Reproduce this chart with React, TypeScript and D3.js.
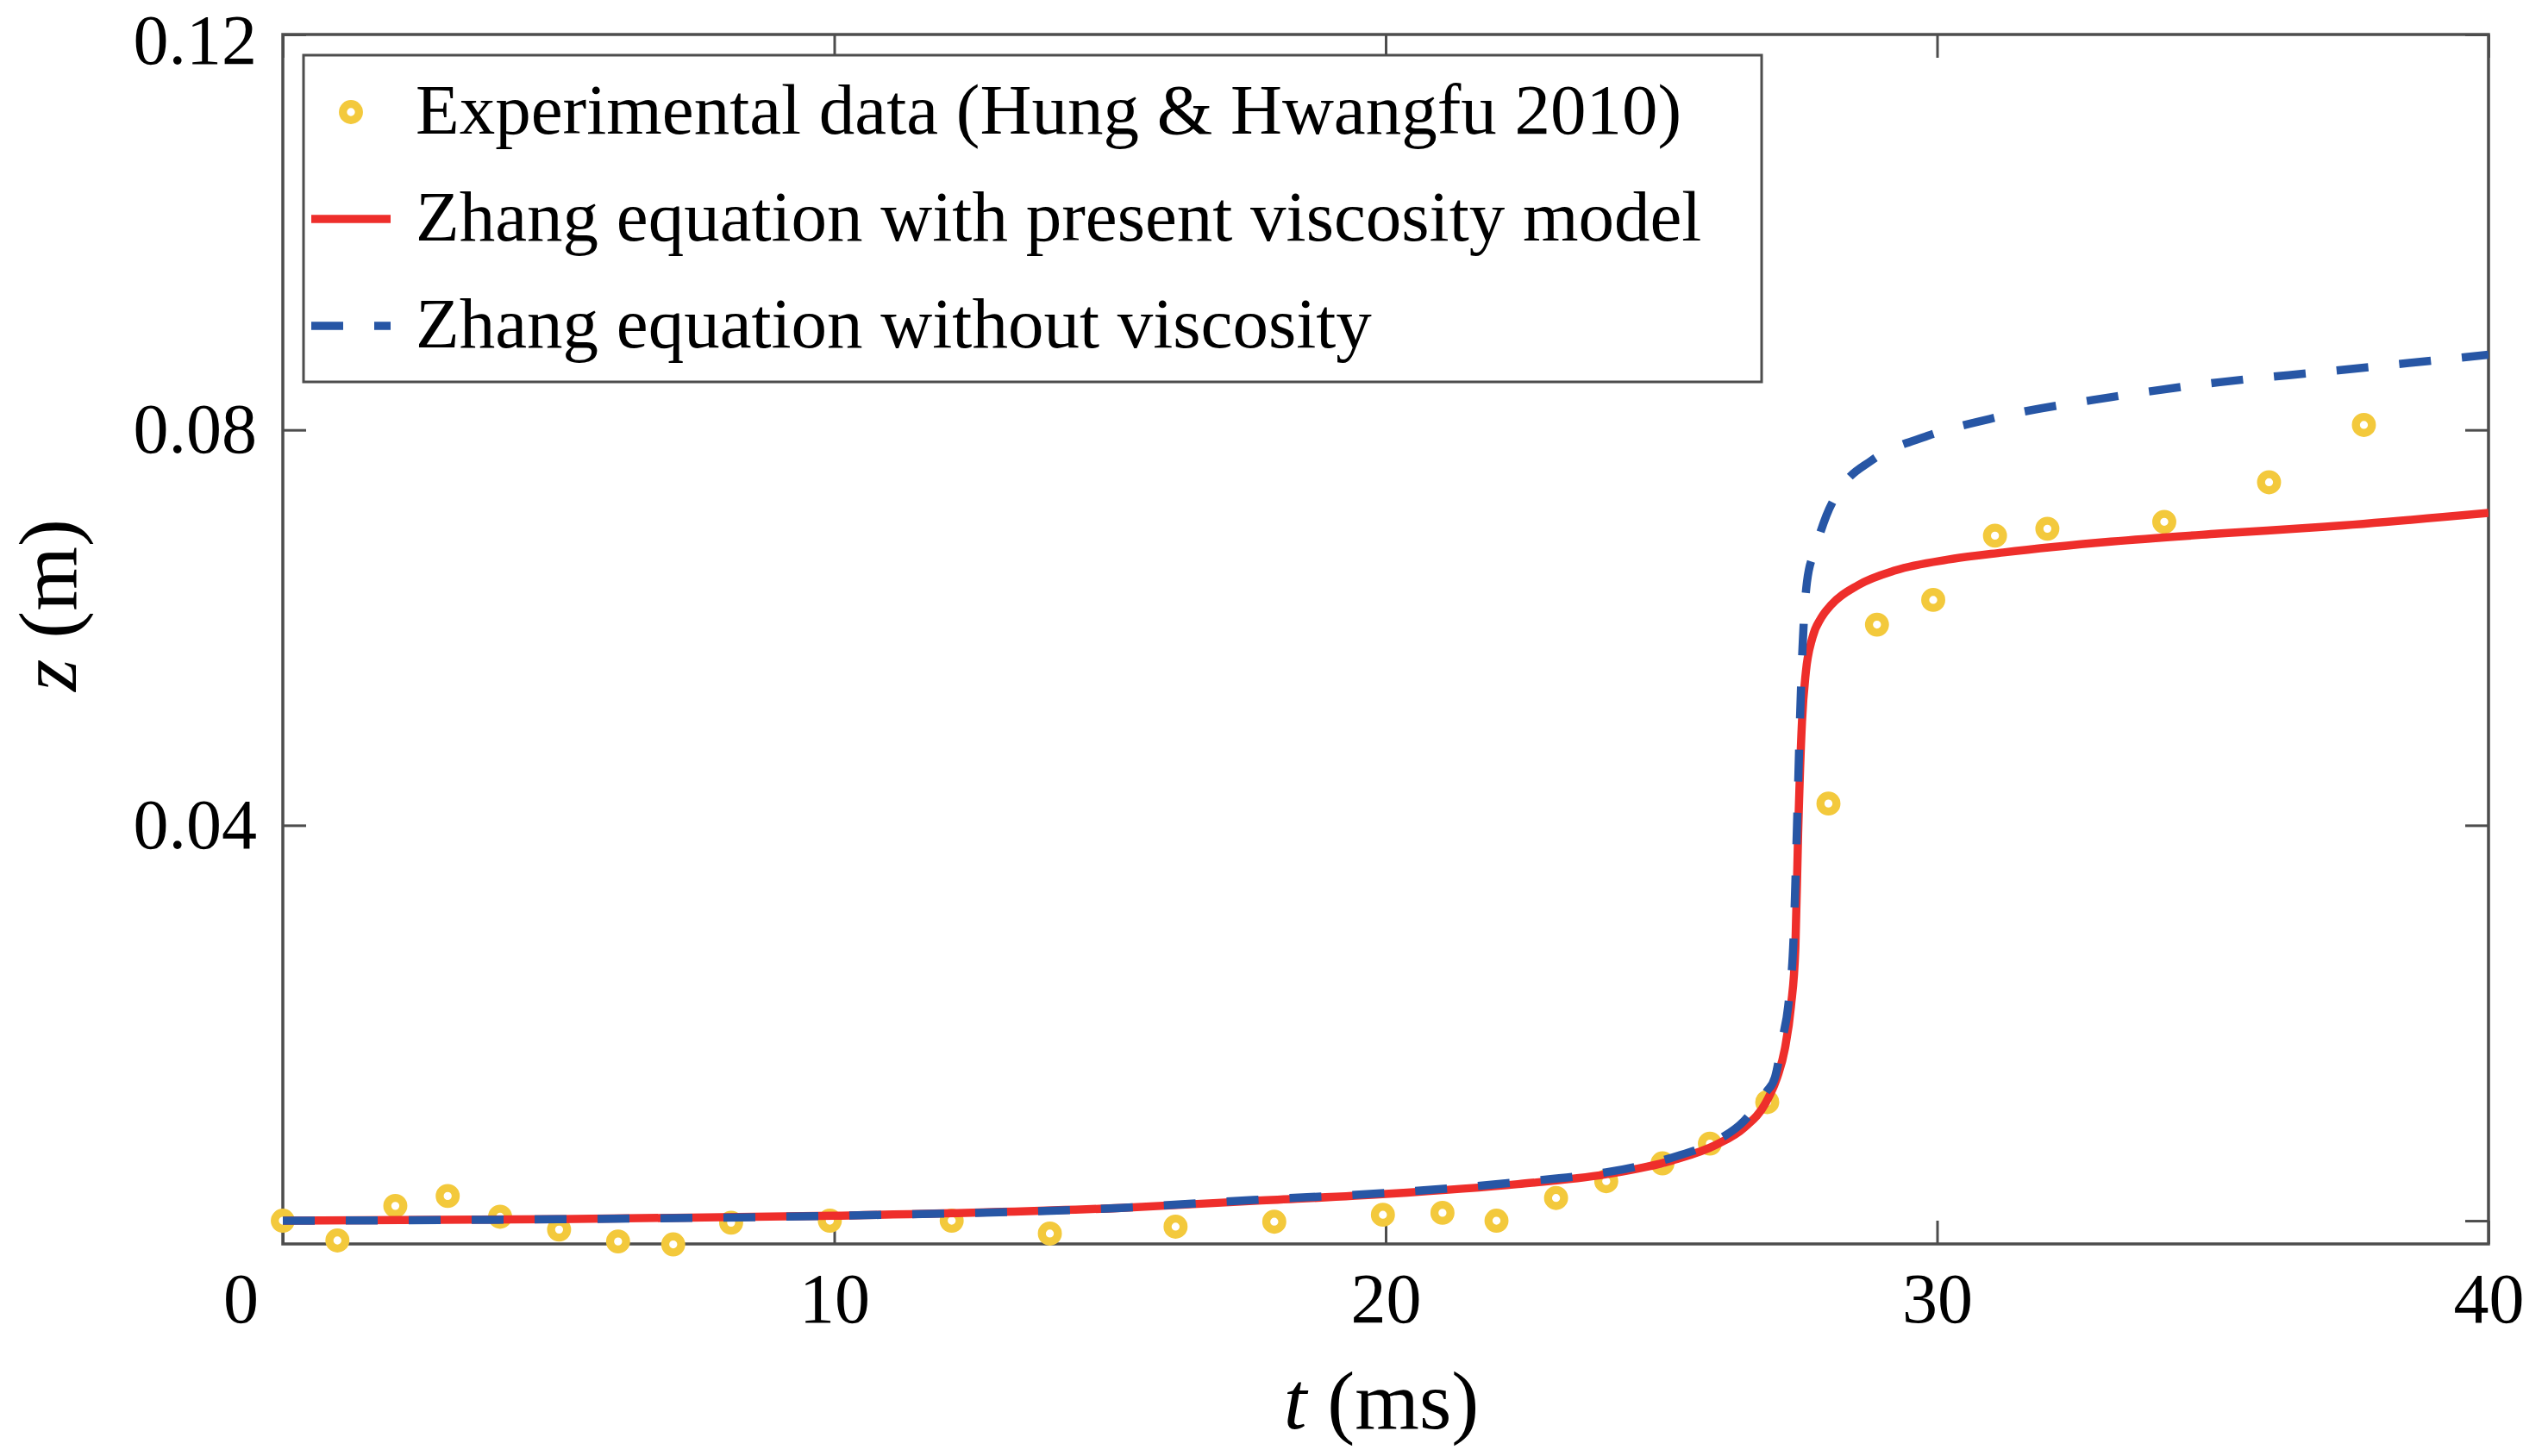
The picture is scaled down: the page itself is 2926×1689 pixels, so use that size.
import React, { useEffect, useRef } from "react";
import * as d3 from "d3";

// ---- data (t in ms, z in m) ----
const expT = [0, 0.99, 2.04, 2.99, 3.94, 5.01, 6.08, 7.08, 8.13, 9.92, 12.13, 13.91, 16.19, 17.98, 19.95, 21.03, 22.01, 23.09, 24.0, 25.02, 25.88, 26.92, 28.03, 28.91, 29.93, 31.05, 32.0, 34.12, 36.02, 37.74];
const expZ = [0, -0.002, 0.0015, 0.0025, 0.0004, -0.0009, -0.0021, -0.0024, -0.0002, 0.0, 0.0, -0.0013, -0.0006, -0.0001, 0.0006, 0.0008, 0.0, 0.0023, 0.004, 0.0058, 0.0078, 0.012, 0.0422, 0.0603, 0.0628, 0.0693, 0.07, 0.0707, 0.0747, 0.0805];

const viscT = [0, 5, 10, 15.2, 17.6, 20, 22.4, 24, 25.2, 26, 26.5, 26.9, 27.1, 27.24, 27.35, 27.43, 27.48, 27.55, 27.62, 27.74, 27.9, 28.08, 28.57, 29.25, 30.22, 31.2, 33.15, 35.09, 37.04, 40];
const viscZ = [0, 0.00015, 0.0005, 0.0013, 0.002, 0.0027, 0.0037, 0.0047, 0.0061, 0.0077, 0.0094, 0.012, 0.0145, 0.0174, 0.0217, 0.0276, 0.0392, 0.0505, 0.0555, 0.059, 0.061, 0.0623, 0.0643, 0.0658, 0.0669, 0.0676, 0.0687, 0.0695, 0.0702, 0.0716];

const inviscT = [0, 5, 10, 15.2, 17.6, 20, 22.4, 24, 25.2, 26, 26.5, 26.9, 27.06, 27.2, 27.3, 27.4, 27.46, 27.51, 27.56, 27.64, 27.79, 27.99, 28.28, 28.81, 29.83, 30.95, 33.14, 35.09, 37.04, 40];
const inviscZ = [0, 0.00015, 0.0005, 0.0013, 0.0021, 0.0028, 0.0039, 0.0049, 0.0064, 0.0081, 0.0101, 0.013, 0.0145, 0.0185, 0.0217, 0.029, 0.04, 0.05, 0.058, 0.0646, 0.0679, 0.0713, 0.0743, 0.0769, 0.0794, 0.0811, 0.0833, 0.0848, 0.0859, 0.0876];

const xTicks = [0, 10, 20, 30, 40];
const xTickLabels = ["0", "10", "20", "30", "40"];
const yTicks = [0, 0.04, 0.08, 0.12];
const yTickLabels = ["", "0.04", "0.08", "0.12"];
const legendLabels = [
  "Experimental data (Hung & Hwangfu 2010)",
  "Zhang equation with present viscosity model",
  "Zhang equation without viscosity",
];

const W = 2926;
const H = 1689;
const M = { left: 328, right: 2886, top: 40, bottom: 1443 };
const FONT = "'Liberation Serif', 'Times New Roman', serif";
const AX = "#4d4d4d";
const RED = "#ee2e2b";
const BLUE = "#2756a5";
const YEL = "#f3c93c";

export default function App() {
  const ref = useRef<SVGSVGElement>(null);

  useEffect(() => {
    const svg = d3.select(ref.current);
    svg.selectAll("*").remove();

    const x = d3.scaleLinear().domain([0, 40]).range([M.left, M.right]);
    const y = d3.scaleLinear().domain([-0.00235, 0.12]).range([M.bottom, M.top]);

    svg.append("rect").attr("width", W).attr("height", H).attr("fill", "white");

    svg.append("defs").append("clipPath").attr("id", "plotclip")
      .append("rect")
      .attr("x", M.left).attr("y", M.top)
      .attr("width", M.right - M.left).attr("height", M.bottom - M.top);

    const tickLen = 27;
    const styleAxis = (g: any) => {
      g.select(".domain").remove();
      g.selectAll(".tick line").attr("stroke", AX).attr("stroke-width", 3);
      g.selectAll(".tick text")
        .attr("fill", "black")
        .style("font-family", FONT)
        .style("font-size", "82px");
    };

    // bottom axis
    const gx = svg.append("g").attr("transform", `translate(0,${M.bottom})`)
      .call(d3.axisBottom(x).tickValues(xTicks).tickSizeInner(-tickLen).tickSizeOuter(0).tickPadding(33)
        .tickFormat((d: any, i: number) => xTickLabels[i]));
    styleAxis(gx);
    gx.selectAll(".tick text").filter((d: any) => d === 0).attr("x", -49);

    // top axis
    const gt = svg.append("g").attr("transform", `translate(0,${M.top})`)
      .call(d3.axisTop(x).tickValues(xTicks).tickSizeInner(-tickLen).tickSizeOuter(0).tickFormat(() => ""));
    styleAxis(gt);

    // left axis
    const gy = svg.append("g").attr("transform", `translate(${M.left},0)`)
      .call(d3.axisLeft(y).tickValues(yTicks).tickSizeInner(-tickLen).tickSizeOuter(0).tickPadding(30)
        .tickFormat((d: any, i: number) => yTickLabels[i]));
    styleAxis(gy);
    // keep the top label inside the picture
    gy.selectAll(".tick text").filter((d: any) => d === 0.12).attr("y", 7);

    // right axis
    const gr = svg.append("g").attr("transform", `translate(${M.right},0)`)
      .call(d3.axisRight(y).tickValues(yTicks).tickSizeInner(-tickLen).tickSizeOuter(0).tickFormat(() => ""));
    styleAxis(gr);

    // frame
    svg.append("rect")
      .attr("x", M.left).attr("y", M.top)
      .attr("width", M.right - M.left).attr("height", M.bottom - M.top)
      .attr("fill", "none").attr("stroke", AX).attr("stroke-width", 3.5);

    // experimental markers
    const expData = expT.map((t, i) => [t, expZ[i]] as [number, number]);
    svg.append("g").selectAll("circle").data(expData).join("circle")
      .attr("cx", (d) => x(d[0])).attr("cy", (d) => y(d[1]))
      .attr("r", 9.3).attr("fill", "white").attr("stroke", YEL).attr("stroke-width", 9.3);

    const line = d3.line<[number, number]>()
      .x((d) => x(d[0])).y((d) => y(d[1]))
      .curve(d3.curveMonotoneX);

    const viscData = viscT.map((t, i) => [t, viscZ[i]] as [number, number]);
    const inviscData = inviscT.map((t, i) => [t, inviscZ[i]] as [number, number]);

    const lines = svg.append("g").attr("clip-path", "url(#plotclip)");
    lines.append("path").attr("d", line(viscData))
      .attr("fill", "none").attr("stroke", RED).attr("stroke-width", 9.5)
      .attr("stroke-linejoin", "round");
    lines.append("path").attr("d", line(inviscData))
      .attr("fill", "none").attr("stroke", BLUE).attr("stroke-width", 9.5)
      .attr("stroke-dasharray", "37 36").attr("stroke-linejoin", "round");

    // legend
    const lg = svg.append("g");
    lg.append("rect").attr("x", 352).attr("y", 64).attr("width", 2043 - 352).attr("height", 443 - 64)
      .attr("fill", "white").attr("stroke", AX).attr("stroke-width", 3);
    const rowY = [130, 254, 378];
    lg.append("circle").attr("cx", 407).attr("cy", rowY[0]).attr("r", 9.3)
      .attr("fill", "white").attr("stroke", YEL).attr("stroke-width", 9.3);
    lg.append("line").attr("x1", 361).attr("x2", 453).attr("y1", rowY[1]).attr("y2", rowY[1])
      .attr("stroke", RED).attr("stroke-width", 9.5);
    lg.append("line").attr("x1", 361).attr("x2", 453).attr("y1", rowY[2]).attr("y2", rowY[2])
      .attr("stroke", BLUE).attr("stroke-width", 9.5).attr("stroke-dasharray", "37 36");
    legendLabels.forEach((s, i) => {
      lg.append("text").attr("x", 482).attr("y", rowY[i] + 25)
        .style("font-family", FONT).style("font-size", "83px").attr("fill", "black")
        .text(s);
    });

    // axis labels
    const xl = svg.append("text").attr("x", 1602).attr("y", 1657).attr("text-anchor", "middle")
      .style("font-family", FONT).style("font-size", "96px").attr("fill", "black");
    xl.append("tspan").style("font-style", "italic").text("t");
    xl.append("tspan").text(" (ms)");

    const yl = svg.append("text").attr("transform", "translate(88,702) rotate(-90)").attr("text-anchor", "middle")
      .style("font-family", FONT).style("font-size", "96px").attr("fill", "black");
    yl.append("tspan").style("font-style", "italic").text("z");
    yl.append("tspan").text(" (m)");
  }, []);

  return (
    <svg
      ref={ref}
      width={W}
      height={H}
      viewBox={`0 0 ${W} ${H}`}
      style={{ position: "absolute", left: 0, top: 0, display: "block" }}
    />
  );
}
